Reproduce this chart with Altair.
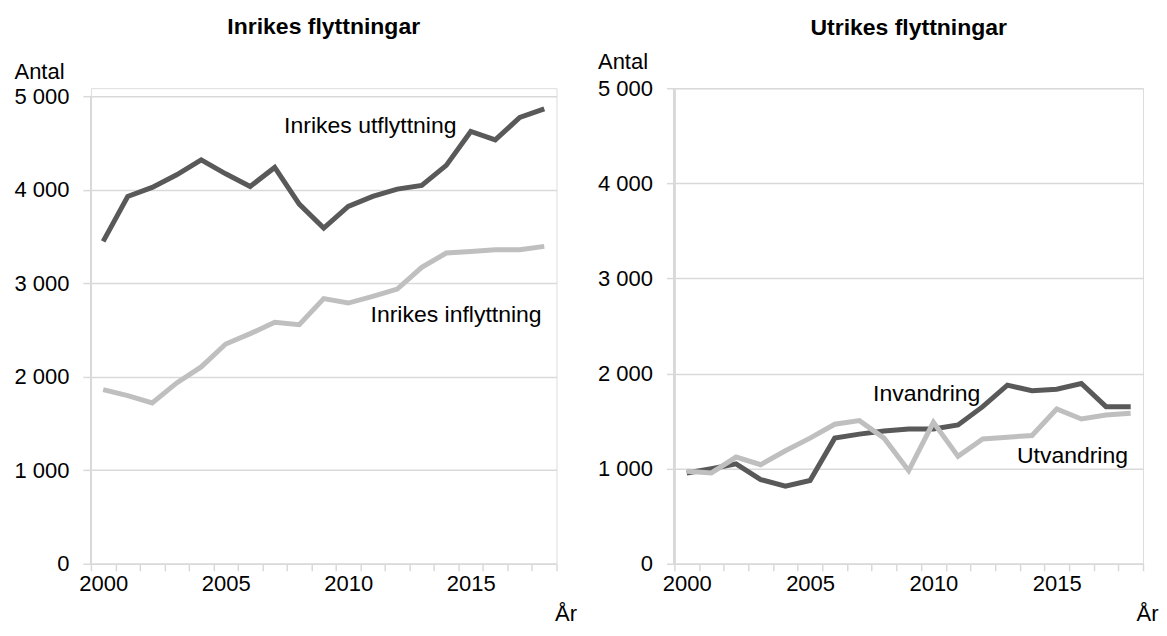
import altair as alt
import pandas as pd

years = list(range(2000, 2019))
inrikes_utflyttning = [3448, 3928, 4024, 4159, 4320, 4170, 4035, 4238, 3846, 3590,
                       3821, 3928, 4006, 4046, 4260, 4623, 4533, 4772, 4864]
inrikes_inflyttning = [1862, 1798, 1720, 1934, 2105, 2350, 2461, 2582, 2557, 2835,
                       2788, 2860, 2938, 3170, 3323, 3340, 3358, 3358, 3394]
invandring = [955, 1000, 1050, 885, 816, 875, 1321, 1363, 1397, 1418,
              1418, 1460, 1652, 1878, 1819, 1836, 1896, 1652, 1652]
utvandring = [973, 955, 1122, 1042, 1188, 1321, 1467, 1505, 1321, 979,
              1488, 1129, 1313, 1331, 1349, 1627, 1522, 1564, 1582]

left_labels = ["Inrikes utflyttning", "Inrikes inflyttning"]
left_label_x = [2010.9, 2014.4]
left_label_y = [4680, 2663]
right_labels = ["Invandring", "Utvandring"]
right_label_x = [2009.73, 2015.64]
right_label_y = [1780, 1130]
y_ticks = [0, 1000, 2000, 3000, 4000, 5000]

DARK = "#595959"
LIGHT = "#bfbfbf"
GRID = "#d9d9d9"
FONT = "Liberation Sans"

boundaries = [y - 0.5 for y in years] + [years[-1] + 0.5]


def panel(dark_vals, light_vals, labels, lx, ly, title, width, height,
          plot_height, antal_y, title_offset, ar_x):
    d1 = pd.DataFrame({"year": years, "value": dark_vals})
    d2 = pd.DataFrame({"year": years, "value": light_vals})
    dl = pd.DataFrame({"year": lx, "value": ly, "label": labels})
    band = width / len(years)
    ymax = 5000 * height / plot_height
    xenc = alt.X(
        "year:Q",
        scale=alt.Scale(domain=[boundaries[0], boundaries[-1]], nice=False, zero=False),
        axis=alt.Axis(
            values=boundaries,
            tickCount=60,
            labelExpr="(datum.value + 0.5) % 5 == 0 && datum.value < 2018 ? format(datum.value + 0.5, 'd') : ''",
            labelOffset=band / 2,
            labelFlush=False,
            labelOverlap=False,
            labelFont=FONT, labelFontSize=22, labelColor="#000000",
            labelPadding=3,
            tickSize=7, tickColor=GRID, tickWidth=1.5,
            domainColor=GRID, domainWidth=1.5,
            grid=False,
            title="År", titleFont=FONT, titleFontSize=22, titleFontWeight="normal",
            titleColor="#000000", titleX=width + ar_x, titleY=50,
            titleAlign="center", titleBaseline="middle",
        ),
    )
    yenc = alt.Y(
        "value:Q",
        scale=alt.Scale(domain=[0, ymax], nice=False),
        axis=alt.Axis(
            values=y_ticks,
            labelExpr="replace(format(datum.value, ','), ',', ' ')",
            labelFont=FONT, labelFontSize=22, labelColor="#000000",
            labelPadding=14,
            tickSize=8, tickColor=GRID, tickWidth=1.5,
            domain=False,
            grid=True, gridColor=GRID, gridWidth=1.5,
            title="Antal", titleFont=FONT, titleFontSize=22, titleFontWeight="normal",
            titleColor="#000000", titleAngle=0, titleX=-77, titleY=antal_y,
            titleAlign="left", titleBaseline="middle",
        ),
    )
    axis_line = alt.Chart(d1).mark_rule(color=GRID, strokeWidth=1.5).encode(
        x=alt.datum(boundaries[0]), y=alt.datum(0), y2=alt.datum(5000))
    l1 = alt.Chart(d1).mark_line(color=DARK, strokeWidth=5).encode(x=xenc, y=yenc)
    l2 = alt.Chart(d2).mark_line(color=LIGHT, strokeWidth=5).encode(x=xenc, y=yenc)
    txt = alt.Chart(dl).mark_text(font=FONT, fontSize=23, color="#000000",
                                  align="center", baseline="middle").encode(
        x=alt.X("year:Q"), y=alt.Y("value:Q"), text="label:N")
    return alt.layer(l1, l2, axis_line, txt).properties(
        width=width, height=height,
        title=alt.TitleParams(title, font=FONT, fontSize=23, fontWeight="bold",
                              color="#000000", anchor="middle", offset=title_offset),
    )


left = panel(inrikes_utflyttning, inrikes_inflyttning, left_labels, left_label_x,
             left_label_y, "Inrikes flyttningar", 466, 476, 468, -17, 21, 9)
right = panel(invandring, utvandring, right_labels, right_label_x, right_label_y,
              "Utrikes flyttningar", 469, 476, 476, -27, 10, 4)

chart = alt.hconcat(left, right, spacing=19).configure_view(stroke=None).configure(
    padding={"left": 5, "top": 7, "right": 0, "bottom": 0})

chart.save("out.html", embed_options={"renderer": "svg", "actions": False})
